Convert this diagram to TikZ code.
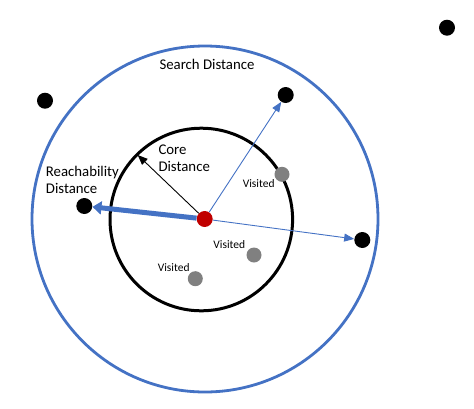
\documentclass[tikz,border=0pt]{standalone}
\usepackage{fontspec}
\setmainfont{Carlito}
\usetikzlibrary{arrows.meta}
\definecolor{officeblue}{HTML}{4472C4}
\definecolor{pointred}{HTML}{C00000}
\definecolor{visitgray}{HTML}{808080}

\begin{document}
\begin{tikzpicture}[x=1pt, y=-1pt,
		point/.style={circle, fill=black, inner sep=0pt, minimum size=16pt},
		visitpoint/.style={point, fill=visitgray, minimum size=15pt},
		bigtext/.style={inner sep=0pt, font=\fontsize{14.8}{17}\selectfont, align=left},
		smalltext/.style={inner sep=0pt, font=\fontsize{11.5}{13}\selectfont},
		thinarrow/.style={line width=0.9pt, -{Triangle[length=10pt, width=8pt]}},
		thickarrow/.style={line width=5pt, officeblue, -{Triangle[length=9pt, width=13pt]}}]
		%%%%% START %%%%%
		
		\useasboundingbox (0, 0) rectangle (474, 408);
		
		% search and core circles
		\draw[line width=2.8pt, officeblue] (205, 219) circle (173);
		\draw[line width=3pt] (201.3, 219.5) circle (91.3);
		
		% points
		\node[point, fill=pointred] (core) at (204.7, 219) {};
		\node[point] (far1) at (447, 27.7) {};
		\node[point] (far2) at (45, 100.7) {};
		\node[point] (top) at (285.7, 95) {};
		\node[point] (reach) at (84.3, 206) {};
		\node[point] (right) at (362.3, 240) {};
		\node[visitpoint] (v1) at (282, 174.3) {};
		\node[visitpoint] (v2) at (254, 255) {};
		\node[visitpoint] (v3) at (195.3, 278.7) {};
		\coordinate (coreedge) at (137.7, 155);
		
		% texts
		\node[bigtext] (search) at (207, 64.3) {Search Distance};
		\node[bigtext, anchor=west] (coretext) at (158.3, 158.2) {Core\\Distance};
		\node[bigtext, anchor=west] (reachtext) at (45.7, 180.2) {Reachability\\Distance};
		\node[smalltext] (vt1) at (258.7, 184) {Visited};
		\node[smalltext] (vt2) at (229.3, 245) {Visited};
		\node[smalltext] (vt3) at (173.7, 268) {Visited};
		
		% distances
		\draw[thinarrow, officeblue] (core) -- (top);
		\draw[thinarrow, officeblue] (core) -- (right);
		\draw[thinarrow] (core) -- (coreedge);
		\draw[thickarrow] (core) -- (reach);
		
		%%%%% END %%%%%
	\end{tikzpicture}
\end{document}
